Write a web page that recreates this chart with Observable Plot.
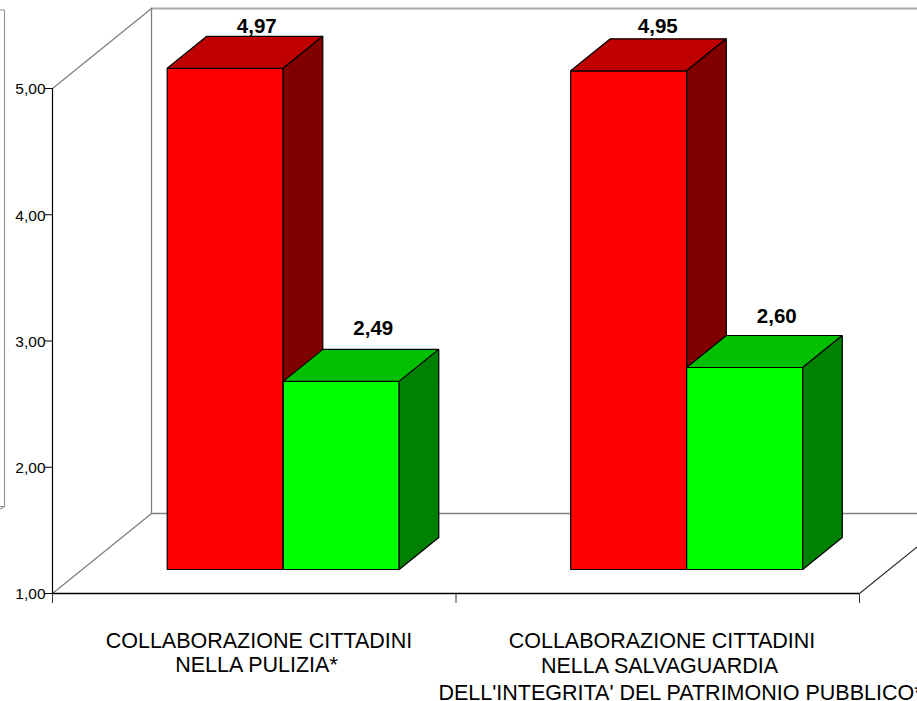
<!DOCTYPE html>
<html>
<head>
<meta charset="utf-8">
<script src="https://cdn.jsdelivr.net/npm/d3@7"></script>
<script src="https://cdn.jsdelivr.net/npm/@observablehq/plot@0.6"></script>
<style>html,body{margin:0;padding:0;background:#fff;overflow:hidden}</style>
</head>
<body>
<div id="chart"></div>
<script>
const categories = [
  ["COLLABORAZIONE CITTADINI", "NELLA PULIZIA*"],
  ["COLLABORAZIONE CITTADINI", "NELLA SALVAGUARDIA", "DELL'INTEGRITA' DEL PATRIMONIO PUBBLICO*"]
];
const redValues = [4.97, 4.95];
const greenValues = [2.49, 2.60];
const yTicks = [1, 2, 3, 4, 5];
const redColors = {front: "#ff0000", top: "#c00000", side: "#800000"};
const greenColors = {front: "#00ff00", top: "#00c000", side: "#008000"};

const fmt = v => v.toFixed(2).replace(".", ",");
const W = 917, H = 701, mL = 52, mR = 58, mT = 88, mB = 108;
const pxX = (W - mL - mR) / 2;      // pixels per category slot
const pxY = (H - mT - mB) / 4;      // pixels per value unit
const DX = 99 / pxX, DY = 80 / pxY; // full depth of the box, in data units
const BW = 116 / pxX, GAP = 85 / pxX;
const D0 = 0.3, D1 = 0.7;           // bars occupy this part of the depth
const p = (x, v, d = 0) => ({x: x + d * DX, y: v + d * DY});
const XEDGE = (W - mL) / pxX;       // right side of the picture

function bar(id, g, s, v, c) {
  const x0 = g + GAP + BW * s, x1 = x0 + BW;
  const face = (name, color, pts) => pts.map(q => ({...q, id: id + name, color}));
  return [
    ...face("front", c.front, [p(x0,1,D0),p(x1,1,D0),p(x1,v,D0),p(x0,v,D0)]),
    ...face("top", c.top, [p(x0,v,D0),p(x1,v,D0),p(x1,v,D1),p(x0,v,D1)]),
    ...face("side", c.side, [p(x1,1,D0),p(x1,1,D1),p(x1,v,D1),p(x1,v,D0)])
  ];
}
const faces = [];
[0, 1].forEach(g => {
  faces.push(...bar("r" + g, g, 0, redValues[g], redColors));
  faces.push(...bar("g" + g, g, 1, greenValues[g], greenColors));
});

// label nudges in pixels relative to the back-top centre of each bar
const labelOffsets = [[-8, -10], [-7.5, -21], [-10.5, -12], [-7.5, -19]];
const labels = [
  {g:0,s:0,v:redValues[0]},{g:0,s:1,v:greenValues[0]},
  {g:1,s:0,v:redValues[1]},{g:1,s:1,v:greenValues[1]}
].map((b,i) => {
  const q = p(b.g + GAP + BW * (b.s + 0.5), b.v, D1);
  return Plot.text([b.v], {x: () => q.x, y: () => q.y, text: fmt,
    dx: labelOffsets[i][0], dy: labelOffsets[i][1], fontWeight: "bold", fontSize: 20.5, fill: "#000"});
});

// pixel position of each category line: [centre x, middle y]
const catPos = [
  [[258.5, 641], [256, 665]],
  [[661.5, 641], [659, 666], [680, 693]]
];
const catMarks = categories.flatMap((lines, g) => lines.map((t, i) =>
  Plot.text([t], {
    x: () => (catPos[g][i][0] - mL) / pxX,
    y: () => 1 - (catPos[g][i][1] - (H - mB)) / pxY,
    text: d => d, fontSize: 21.5, fill: "#000"
  })));

const wallColor = "#808080";
const grey = (pts, w = 1.3, c = wallColor) => Plot.line(pts, {x: "x", y: "y", stroke: c, strokeWidth: w, strokeLinejoin: "miter"});
const leftX = (4 - mL) / pxX;
const edgeD = (W - mL - 2 * pxX) / 99;

const chart = Plot.plot({
  width: W, height: H,
  marginLeft: mL, marginRight: mR, marginTop: mT, marginBottom: mB,
  style: {fontFamily: "'Liberation Sans', Arial, sans-serif", overflow: "hidden", background: "#fff"},
  x: {domain: [0, 2], axis: null},
  y: {domain: [1, 5], axis: null},
  marks: [
    // back wall and floor
    grey([p(0,5,1), p(0,1,1), {x: XEDGE, y: 1 + DY}]),
    grey([p(0,5,1), {x: XEDGE, y: 5 + DY}], 2, "#a6a6a6"),
    grey([p(0,1,0), p(0,1,1)]),
    grey([p(0,5,0), p(0,5,1)]),
    grey([p(2,1,0), p(2,1,edgeD)], 1.2, "#333"),
    // piece of the neighbouring panel cut by the left edge
    grey([{x: -mL/pxX, y: 5 + 78.5/pxY}, {x: leftX, y: 5 + 78.5/pxY}, {x: leftX, y: 1 + 87/pxY}, {x: -mL/pxX, y: 1 + 84.5/pxY}], 1.2, "#999"),
    grey([{x: leftX, y: 1 + 87/pxY}, {x: -mL/pxX, y: 1 + 87/pxY}], 1, "#999"),
    // axes
    Plot.axisY({ticks: yTicks, tickFormat: () => "", tickSize: 7, tickPadding: 0, stroke: "#000", strokeWidth: 1, label: null}),
    Plot.text(yTicks, {x: () => 0, y: d => d, text: fmt, textAnchor: "end", dx: -7, dy: 1, fontSize: 15.5, fill: "#000"}),
    Plot.axisX({ticks: [0, 1, 2], tickFormat: () => null, tickSize: 10, tickPadding: 0, stroke: "#333", strokeWidth: 1, label: null}),
    Plot.ruleX([0], {y1: 1, y2: 5, stroke: "#000", strokeWidth: 1.2}),
    Plot.ruleY([1], {x1: 0, x2: 2, stroke: "#000", strokeWidth: 1.5}),
    // bars
    Plot.line(faces, {x: "x", y: "y", z: "id", fill: "color", stroke: "#000", strokeWidth: 1.2, curve: "linear-closed", strokeLinejoin: "miter"}),
    ...labels,
    ...catMarks
  ]
});
document.getElementById("chart").appendChild(chart);
</script>
</body>
</html>
